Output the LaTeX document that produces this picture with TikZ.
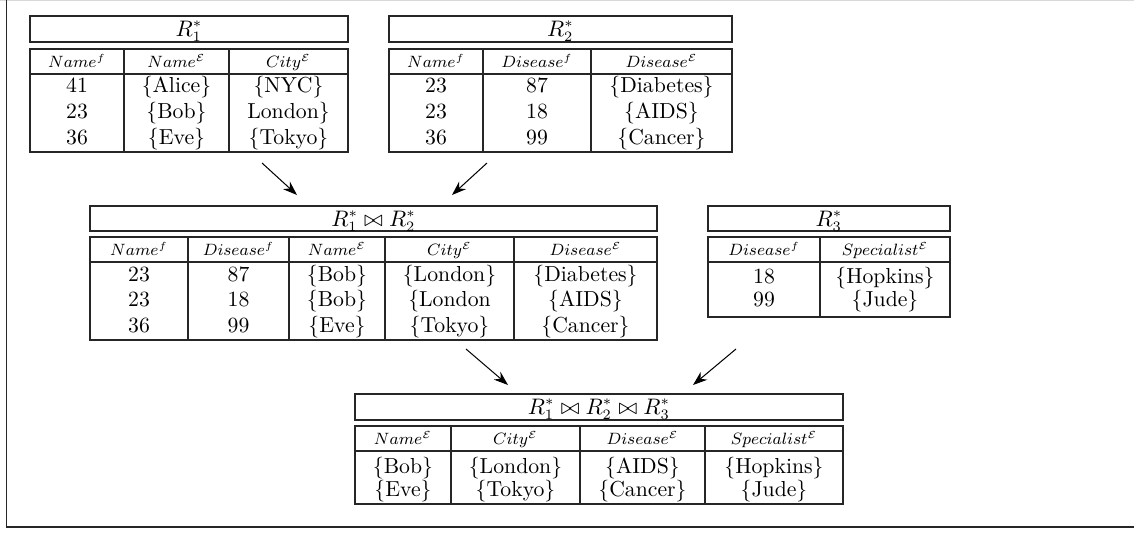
\documentclass[tikz,border=0pt]{standalone}
\usetikzlibrary{arrows.meta}
\begin{document}
\begin{tikzpicture}[x=0.488pt,y=-0.488pt,
  tbl/.style={line width=0.6pt, draw=black!85},
  hd/.style={font=\fontsize{7.8}{9}\selectfont, inner sep=0pt, anchor=base},
  dat/.style={font=\fontsize{10.6}{12}\selectfont, inner sep=0pt, anchor=base},
  ttl/.style={font=\fontsize{10.6}{12}\selectfont, inner sep=0pt, anchor=base},
  arr/.style={-{Stealth[length=7pt,width=5pt]}, line width=0.5pt}]
\useasboundingbox (0,0) rectangle (1134,548);
% outer frame
\draw[black!15, line width=0.6pt] (0,0.5) -- (1134,0.5);
\draw[black!85, line width=0.8pt] (6.5,0) -- (6.5,527) -- (1134,527);

% ---------- R1* ----------
\draw[tbl] (30,16) rectangle (348,42);
\node[ttl] (r1t) at (189,36) {$R_1^*$};
\draw[tbl] (30,49) rectangle (348,152);
\draw[tbl] (30,74) -- (348,74);
\draw[tbl] (124,49) -- (124,152) (229,49) -- (229,152);
\node[hd] (r1h1) at (77,67) {$Name^f$};
\node[hd] (r1h2) at (176.5,67) {$Name^{\mathcal{E}}$};
\node[hd] (r1h3) at (288.5,67) {$City^{\mathcal{E}}$};
\node[dat] (r1a1) at (77,92) {41};
\node[dat] (r1a2) at (176.5,92) {\{Alice\}};
\node[dat] (r1a3) at (288.5,92) {\{NYC\}};
\node[dat] (r1b1) at (77,118) {23};
\node[dat] (r1b2) at (176.5,118) {\{Bob\}};
\node[dat] (r1b3) at (288.5,118) {London\}};
\node[dat] (r1c1) at (77,144) {36};
\node[dat] (r1c2) at (176.5,144) {\{Eve\}};
\node[dat] (r1c3) at (288.5,144) {\{Tokyo\}};

% ---------- R2* ----------
\draw[tbl] (389,16) rectangle (732,42);
\node[ttl] (r2t) at (560.5,36) {$R_2^*$};
\draw[tbl] (389,49) rectangle (732,152);
\draw[tbl] (389,74) -- (732,74);
\draw[tbl] (483,49) -- (483,152) (591,49) -- (591,152);
\node[hd] (r2h1) at (436,67) {$Name^f$};
\node[hd] (r2h2) at (537,67) {$Disease^f$};
\node[hd] (r2h3) at (661.5,67) {$Disease^{\mathcal{E}}$};
\node[dat] (r2a1) at (436,92) {23};
\node[dat] (r2a2) at (537,92) {87};
\node[dat] (r2a3) at (661.5,92) {\{Diabetes\}};
\node[dat] (r2b1) at (436,118) {23};
\node[dat] (r2b2) at (537,118) {18};
\node[dat] (r2b3) at (661.5,118) {\{AIDS\}};
\node[dat] (r2c1) at (436,144) {36};
\node[dat] (r2c2) at (537,144) {99};
\node[dat] (r2c3) at (661.5,144) {\{Cancer\}};

% ---------- R1* join R2* ----------
\draw[tbl] (90,206) rectangle (657,231);
\node[ttl] (jt) at (373.5,226) {$R_1^*\bowtie R_2^*$};
\draw[tbl] (90,237) rectangle (657,340);
\draw[tbl] (90,262) -- (657,262);
\draw[tbl] (188,237) -- (188,340) (289,237) -- (289,340) (385,237) -- (385,340) (514,237) -- (514,340);
\node[hd] (jh1) at (139,255) {$Name^f$};
\node[hd] (jh2) at (238.5,255) {$Disease^f$};
\node[hd] (jh3) at (337,255) {$Name^{\mathcal{E}}$};
\node[hd] (jh4) at (449.5,255) {$City^{\mathcal{E}}$};
\node[hd] (jh5) at (585.5,255) {$Disease^{\mathcal{E}}$};
\node[dat] (ja1) at (139,281) {23};
\node[dat] (ja2) at (238.5,281) {87};
\node[dat] (ja3) at (337,281) {\{Bob\}};
\node[dat] (ja4) at (449.5,281) {\{London\}};
\node[dat] (ja5) at (585.5,281) {\{Diabetes\}};
\node[dat] (jb1) at (139,306) {23};
\node[dat] (jb2) at (238.5,306) {18};
\node[dat] (jb3) at (337,306) {\{Bob\}};
\node[dat] (jb4) at (449.5,306) {\{London};
\node[dat] (jb5) at (585.5,306) {\{AIDS\}};
\node[dat] (jc1) at (139,332) {36};
\node[dat] (jc2) at (238.5,332) {99};
\node[dat] (jc3) at (337,332) {\{Eve\}};
\node[dat] (jc4) at (449.5,332) {\{Tokyo\}};
\node[dat] (jc5) at (585.5,332) {\{Cancer\}};

% ---------- R3* ----------
\draw[tbl] (708,206) rectangle (950,231);
\node[ttl] (r3t) at (829,226) {$R_3^*$};
\draw[tbl] (708,237) rectangle (950,317);
\draw[tbl] (708,262) -- (950,262);
\draw[tbl] (820,237) -- (820,317);
\node[hd] (r3h1) at (764,255) {$Disease^f$};
\node[hd] (r3h2) at (885,255) {$Specialist^{\mathcal{E}}$};
\node[dat] (r3a1) at (764,283) {18};
\node[dat] (r3a2) at (885,283) {\{Hopkins\}};
\node[dat] (r3b1) at (764,306) {99};
\node[dat] (r3b2) at (885,306) {\{Jude\}};

% ---------- R1* join R2* join R3* ----------
\draw[tbl] (355,394) rectangle (843,420);
\node[ttl] (ft) at (599,414) {$R_1^*\bowtie R_2^*\bowtie R_3^*$};
\draw[tbl] (355,426) rectangle (843,504);
\draw[tbl] (355,451) -- (843,451);
\draw[tbl] (451,426) -- (451,504) (580,426) -- (580,504) (705,426) -- (705,504);
\node[hd] (fh1) at (403,444) {$Name^{\mathcal{E}}$};
\node[hd] (fh2) at (515.5,444) {$City^{\mathcal{E}}$};
\node[hd] (fh3) at (642.5,444) {$Disease^{\mathcal{E}}$};
\node[hd] (fh4) at (774,444) {$Specialist^{\mathcal{E}}$};
\node[dat] (fa1) at (403,473) {\{Bob\}};
\node[dat] (fa2) at (515.5,473) {\{London\}};
\node[dat] (fa3) at (642.5,473) {\{AIDS\}};
\node[dat] (fa4) at (774,473) {\{Hopkins\}};
\node[dat] (fb1) at (403,496) {\{Eve\}};
\node[dat] (fb2) at (515.5,496) {\{Tokyo\}};
\node[dat] (fb3) at (642.5,496) {\{Cancer\}};
\node[dat] (fb4) at (774,496) {\{Jude\}};

% ---------- arrows ----------
\coordinate (a1s) at (262,163);
\coordinate (a1e) at (297,195);
\coordinate (a2s) at (487,163);
\coordinate (a2e) at (452,195);
\coordinate (a3s) at (466,349);
\coordinate (a3e) at (508,385);
\coordinate (a4s) at (736,349);
\coordinate (a4e) at (693,385);
\draw[arr] (a1s) -- (a1e);
\draw[arr] (a2s) -- (a2e);
\draw[arr] (a3s) -- (a3e);
\draw[arr] (a4s) -- (a4e);
\end{tikzpicture}
\end{document}
